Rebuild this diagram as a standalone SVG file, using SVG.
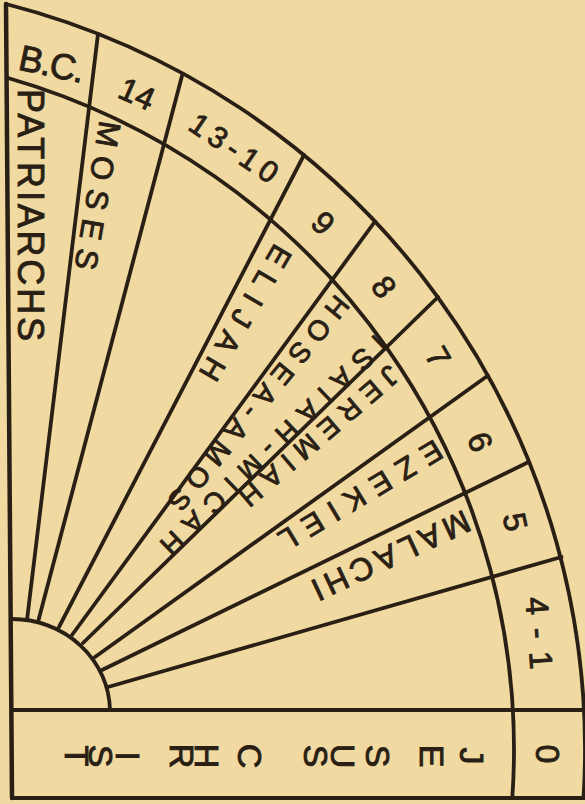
<svg xmlns="http://www.w3.org/2000/svg" width="585" height="804" viewBox="0 0 585 804">
<style>
.ln{fill:none;stroke:#2a1f14;stroke-width:3.8;stroke-linecap:round;stroke-linejoin:round}
.t{font-family:"Liberation Sans","DejaVu Sans",sans-serif;fill:#2a1f14;stroke:#2a1f14;stroke-width:0.9;text-anchor:middle;dominant-baseline:central}
.b{font-family:"Liberation Sans","DejaVu Sans",sans-serif;fill:#2a1f14;stroke:#2a1f14;stroke-width:0.9}
</style>
<rect width="585" height="804" fill="#f1d9a2"/>
<g id="connectors" class="ln">
<path d="M6 4 L12 798" stroke-width="4.5"/>
<path d="M6 4 A770 770 0 0 1 583.5 798"/>
<path d="M8 78 A699 699 0 0 1 512.3 798"/>
<path d="M12 710 L584 710"/>
<path d="M12 798 L584 798"/>
<path d="M12 619 A98 93 0 0 1 110 710"/>
<path d="M27 620 L98 34"/>
<path d="M38 622 L182.5 74"/>
<path d="M59 627 L304 155"/>
<path d="M72 635 L375 221.5"/>
<path d="M83 643 L438 297"/>
<path d="M95 657 L488 375.5"/>
<path d="M102 670 L528.6 462"/>
<path d="M108 687 L561.5 557"/>
</g>
<g id="ring-labels">
<text id="bc" class="t" font-size="36" x="52" y="64" transform="rotate(12 52 64)" textLength="66" lengthAdjust="spacing">B.C.</text>
<text id="n14" class="t" font-size="32" x="137" y="94" transform="rotate(24 137 94)">14</text>
<text id="n13-10" class="t" font-size="30" x="234" y="148" transform="rotate(34 234 148)" textLength="100" lengthAdjust="spacing">13-10</text>
<text id="n9" class="t" font-size="32" x="323" y="223" transform="rotate(44 323 223)">9</text>
<text id="n8" class="t" font-size="32" x="384" y="287" transform="rotate(54 384 287)">8</text>
<text id="n7" class="t" font-size="32" x="438" y="357" transform="rotate(60 438 357)">7</text>
<text id="n6" class="t" font-size="32" x="480" y="442" transform="rotate(68 480 442)">6</text>
<text id="n5" class="t" font-size="32" x="515" y="522" transform="rotate(78 515 522)">5</text>
<text id="n4-1" class="t" font-size="32" x="539" y="633" transform="rotate(86 539 633)" textLength="72" lengthAdjust="spacing">4-1</text>
<text id="n0" class="b" font-size="34" x="536" y="744.5" rotate="90">0</text>
</g>
<g id="sectors">
<text id="patriarchs" class="t" font-size="36" x="30.5" y="215" transform="rotate(90 30.5 215)" textLength="252" lengthAdjust="spacing">PATRIARCHS</text>
<text id="moses" class="t" font-size="31" x="97.5" y="195.5" transform="rotate(99.7 97.5 195.5)" textLength="150" lengthAdjust="spacing">MOSES</text>
<text id="elijah" class="t" font-size="30" x="245.5" y="313" transform="rotate(120.4 245.5 313)" textLength="152" lengthAdjust="spacing">ELIJAH</text>
<text id="hosea-amos" class="t" font-size="28" x="258.5" y="403" transform="rotate(129.3 258.5 403)" textLength="268" lengthAdjust="spacing">HOSEA-AMOS</text>
<text id="isaiah-micah" class="t" font-size="28" x="273.5" y="445" transform="rotate(136 273.5 445)" textLength="302" lengthAdjust="spacing">ISAIAH-MICAH</text>
<text id="jeremiah" class="t" font-size="28" x="319" y="436" transform="rotate(139.5 319 436)" textLength="200" lengthAdjust="spacing">JEREMIAH</text>
<text id="ezekiel" class="t" font-size="30" x="360.5" y="495.5" transform="rotate(149 360.5 495.5)" textLength="185" lengthAdjust="spacing">EZEKIEL</text>
<text id="malachi" class="t" font-size="32" x="391" y="555.5" transform="rotate(155 391 555.5)" textLength="171" lengthAdjust="spacing">MALACHI</text>
</g>
<g id="jesus-christ">
<text class="b" font-size="34" x="459.8 419.8 365.8 330.8 303.8 270.8 237.8 194.8 169.8 115.8 88.8 64.8" y="747.5 744.7 744.7 743.7 744.7 751 743.7 743.7 743.7 751.3 744.7 745.6" rotate="90">JESUS CHRIST</text>
</g>
</svg>
